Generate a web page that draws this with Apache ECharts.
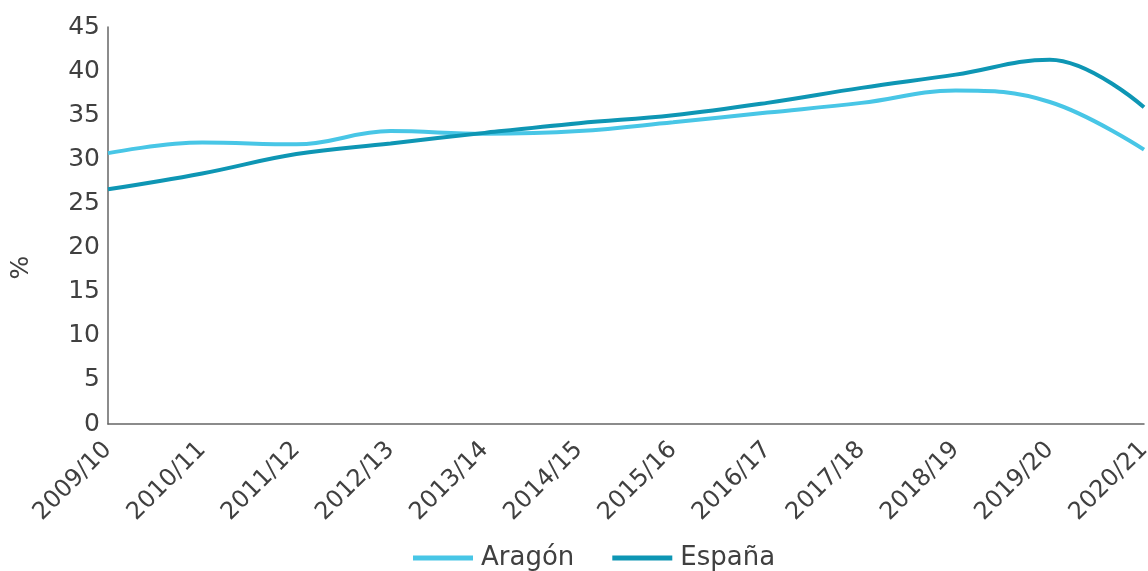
<!DOCTYPE html>
<html>
<head>
<meta charset="utf-8">
<script src="https://cdn.jsdelivr.net/npm/echarts@6/dist/echarts.min.js"></script>
<style>
  html, body { margin: 0; padding: 0; background: #fff; }
  #chart { width: 1148px; height: 571px; }
</style>
</head>
<body>
<div id="chart"></div>
<script>
// cursos
const categories = ['2009/10', '2010/11', '2011/12', '2012/13', '2013/14', '2014/15',
  '2015/16', '2016/17', '2017/18', '2018/19', '2019/20', '2020/21'];
const aragon = [30.7, 31.9, 31.7, 33.2, 32.9, 33.2, 34.2, 35.3, 36.4, 37.8, 36.5, 31.1];
const espana = [26.6, 28.4, 30.6, 31.8, 33.0, 34.1, 35.0, 36.4, 38.1, 39.6, 41.3, 35.9];

const chart = echarts.init(document.getElementById('chart'));
const txt = '#404040';
const font = 'DejaVu Sans';

chart.setOption({
  animation: false,
  textStyle: { fontFamily: font },
  grid: { left: 108, right: 4, top: 27, bottom: 147, outerBoundsMode: 'none' },
  legend: {
    bottom: -5,
    left: 408,
    icon: 'rect',
    itemWidth: 60,
    itemHeight: 5,
    itemGap: 38,
    textStyle: { fontSize: 26, color: txt, fontFamily: font, padding: [0, 0, 0, 3] },
    data: ['Aragón', 'España']
  },
  xAxis: {
    type: 'category',
    boundaryGap: false,
    data: categories,
    axisLine: { lineStyle: { color: '#666', width: 1.5 } },
    axisTick: { show: false },
    axisLabel: { rotate: 45, fontSize: 24, color: txt, margin: 22, interval: 0, fontFamily: font }
  },
  yAxis: {
    type: 'value',
    min: 0,
    max: 45,
    interval: 5,
    name: '%',
    nameLocation: 'middle',
    nameGap: 74,
    nameTextStyle: { fontSize: 25, color: txt, fontFamily: font, padding: [0, 84, 0, 0] },
    axisLine: { show: true, lineStyle: { color: '#666', width: 1.5 } },
    axisTick: { show: false },
    splitLine: { show: false },
    axisLabel: { fontSize: 25, color: txt, margin: 8, fontFamily: font }
  },
  series: [
    {
      name: 'Aragón',
      type: 'line',
      smooth: 0.4,
      data: aragon,
      showSymbol: false,
      lineStyle: { width: 4, color: '#48C6E6' },
      itemStyle: { color: '#48C6E6' }
    },
    {
      name: 'España',
      type: 'line',
      smooth: 0.4,
      data: espana,
      showSymbol: false,
      lineStyle: { width: 4, color: '#0E96B4' },
      itemStyle: { color: '#0E96B4' }
    }
  ]
});
</script>
</body>
</html>
